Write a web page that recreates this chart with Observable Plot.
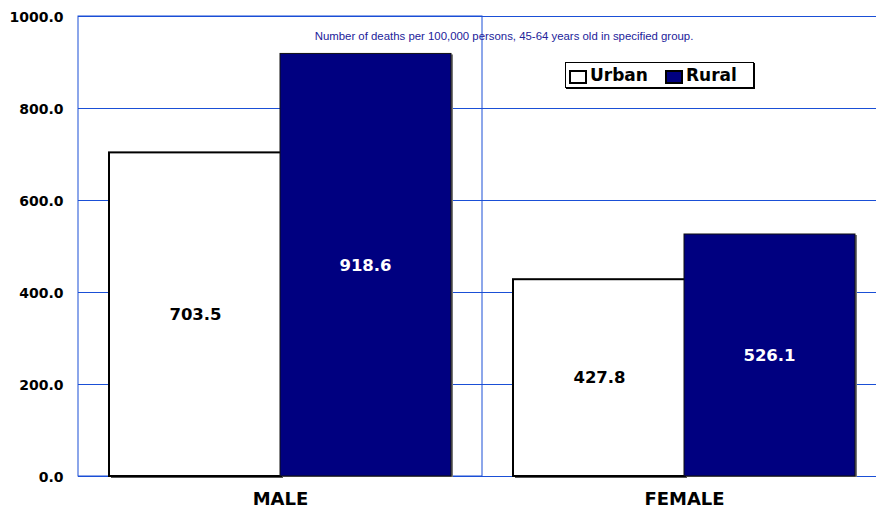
<!DOCTYPE html>
<html>
<head>
<meta charset="utf-8">
<script src="https://cdn.jsdelivr.net/npm/d3@7"></script>
<script src="https://cdn.jsdelivr.net/npm/@observablehq/plot@0.6"></script>
<style>
  body { margin: 0; background: #fff; }
  #wrap { position: relative; width: 876px; height: 508px; overflow: hidden; }
  #title { position: absolute; left: 0; width: 1008px; top: 30px; text-align: center;
    font-family: "Liberation Sans", sans-serif; font-size: 11.4px; color: #22229a; white-space: nowrap; }
  #legend { position: absolute; left: 565px; top: 62px; width: 187px; height: 24px;
    border: 1px solid #000; box-shadow: 1px 1px 0 #000; background: #fff;
    font-family: "DejaVu Sans", sans-serif; font-weight: bold; font-size: 17px; }
  .sw { position: absolute; top: 7px; width: 14px; height: 10px; border: 2px solid #000; }
  .lab { position: absolute; top: 1px; line-height: 22px; }
</style>
</head>
<body>
<div id="wrap">
  <div id="chart"></div>
  <div id="title"></div>
  <div id="legend"></div>
</div>
<script>
const groups = ["MALE", "FEMALE"];
const series = ["Urban", "Rural"];
const urban = [703.5, 427.8];
const rural = [918.6, 526.1];
const yTicks = [0, 200, 400, 600, 800, 1000];
const titleText = "Number of deaths per 100,000 persons, 45-64 years old in specified group.";
const seriesFill = {Urban: "#ffffff", Rural: "#000080"};

const urbanRows = groups.map((g, i) => ({group: g, series: "Urban", value: urban[i]}));
const ruralRows = groups.map((g, i) => ({group: g, series: "Rural", value: rural[i]}));

const blue = "#1a4fd6";

const chart = Plot.plot({
  width: 876,
  height: 508,
  marginLeft: 78,
  marginRight: 0,
  marginTop: 16,
  marginBottom: 32,
  style: {fontFamily: "DejaVu Sans", background: "#fff"},
  x: {domain: groups, range: [78, 886], padding: 0},
  y: {domain: [0, 1000]},
  marks: [
    Plot.gridY(yTicks, {stroke: blue, strokeOpacity: 1, strokeWidth: 1}),
    Plot.barY(groups.slice(0, 1), {x: d => d, y1: d => 0, y2: d => 1000, fill: "none", stroke: blue, strokeWidth: 1}),
    Plot.barY(urbanRows, {x: "group", y: "value", fill: "#555", insetLeft: 31, insetRight: 201, dx: 2, dy: 2}),
    Plot.barY(ruralRows, {x: "group", y: "value", fill: "#777", insetLeft: 202, insetRight: 31, dx: 2, dy: 1}),
    Plot.barY(urbanRows, {x: "group", y: "value", fill: seriesFill.Urban, stroke: "#000", strokeWidth: 2, insetLeft: 31, insetRight: 201}),
    Plot.barY(ruralRows, {x: "group", y: "value", fill: seriesFill.Rural, stroke: "#111", strokeWidth: 1, insetLeft: 202, insetRight: 31}),
    Plot.text(urbanRows, {x: "group", y: d => d.value / 2, text: d => d.value.toFixed(1), dx: -85, fill: "#000", fontWeight: "bold", fontSize: 16.5}),
    Plot.text(ruralRows, {x: "group", y: d => d.value / 2, text: d => d.value.toFixed(1), dx: 85, fill: "#fff", fontWeight: "bold", fontSize: 16.5}),
    Plot.axisY(yTicks, {tickFormat: d => d.toFixed(1), tickSize: 0, tickPadding: 15, fontSize: 14, fontWeight: "bold", fill: "#000", dy: 1, label: null}),
    Plot.axisX({tickSize: 0, tickPadding: 16, fontSize: 18, fontWeight: "bold", fill: "#000", label: null})
  ]
});
document.getElementById("chart").appendChild(chart);
document.getElementById("title").textContent = titleText;

const legend = document.getElementById("legend");
const legendPos = {Urban: [3, 24], Rural: [99, 120]};
series.forEach(s => {
  const sw = document.createElement("div");
  sw.className = "sw";
  sw.style.left = legendPos[s][0] + "px";
  sw.style.background = seriesFill[s];
  legend.appendChild(sw);
  const lab = document.createElement("div");
  lab.className = "lab";
  lab.style.left = legendPos[s][1] + "px";
  lab.textContent = s;
  legend.appendChild(lab);
});
</script>
</body>
</html>
